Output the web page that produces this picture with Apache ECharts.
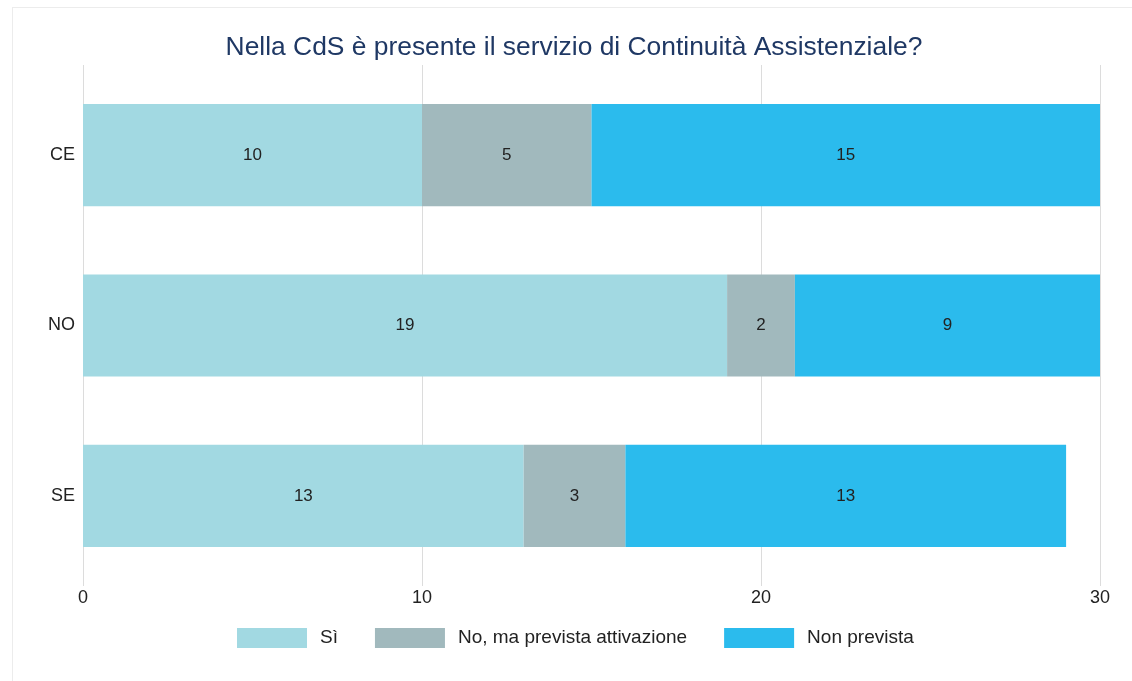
<!DOCTYPE html>
<html>
<head>
<meta charset="utf-8">
<script src="https://cdn.jsdelivr.net/npm/echarts@6/dist/echarts.min.js"></script>
<style>
  html, body { margin: 0; padding: 0; overflow: hidden; background: #fff; }
  #frame { position: absolute; left: 12px; top: 7px; width: 1200px; height: 700px;
           border-left: 1px solid #ececec; border-top: 1px solid #ececec; }
  #chart { position: absolute; left: 0; top: 0; width: 1132px; height: 681px; }
</style>
</head>
<body>
<div id="frame"></div>
<div id="chart"></div>
<script>
// Regions, top to bottom
const categories = ['CE', 'NO', 'SE'];
const seriesNames = ['Sì', 'No, ma prevista attivazione', 'Non prevista'];
const valuesSi = [10, 19, 13];
const valuesPrevista = [5, 2, 3];
const valuesNonPrevista = [15, 9, 13];
const xTicks = [0, 10, 20, 30];
const colors = ['#a2d9e2', '#a1b9bd', '#2bbbed'];

const fontFamily = '"Liberation Sans", Arial, sans-serif';
const gridColor = '#dcdcdc';

function barSeries(name, data, color) {
  return {
    name: name,
    type: 'bar',
    stack: 'total',
    data: data,
    barWidth: '60%',
    itemStyle: { color: color },
    label: {
      show: true,
      position: 'inside',
      color: '#222',
      fontSize: 17,
      fontFamily: fontFamily
    }
  };
}

const chart = echarts.init(document.getElementById('chart'), null, { renderer: 'canvas' });
chart.setOption({
  animation: false,
  title: {
    text: 'Nella CdS è presente il servizio di Continuità Assistenziale?',
    left: 569,
    textAlign: 'center',
    top: 30,
    textStyle: { color: '#1f3864', fontSize: 26.4, fontWeight: 'normal', fontFamily: fontFamily }
  },
  legend: {
    bottom: 28,
    left: 232,
    itemWidth: 70,
    itemHeight: 20,
    itemGap: 37,
    icon: 'rect',
    data: seriesNames,
    textStyle: { color: '#222', fontSize: 19, fontFamily: fontFamily, padding: [0, 0, 0, 8] }
  },
  grid: { left: 83, right: 32, top: 70, bottom: 100, containLabel: false },
  xAxis: [
    {
      type: 'value',
      min: xTicks[0],
      max: xTicks[xTicks.length - 1],
      interval: 10,
      axisLine: { show: false },
      axisTick: { show: true, length: 5, lineStyle: { color: gridColor } },
      splitLine: { show: true, lineStyle: { color: gridColor, width: 1 } },
      axisLabel: { color: '#222', fontSize: 18, fontFamily: fontFamily, margin: 8 }
    },
    {
      type: 'value',
      position: 'top',
      min: xTicks[0],
      max: xTicks[xTicks.length - 1],
      interval: 10,
      axisLine: { show: false },
      axisTick: { show: true, length: 5, lineStyle: { color: gridColor } },
      splitLine: { show: false },
      axisLabel: { show: false }
    }
  ],
  yAxis: {
    type: 'category',
    data: categories,
    inverse: true,
    axisLine: { show: false },
    axisTick: { show: false },
    axisLabel: { color: '#222', fontSize: 18, fontFamily: fontFamily, margin: 8 }
  },
  series: [
    barSeries(seriesNames[0], valuesSi, colors[0]),
    barSeries(seriesNames[1], valuesPrevista, colors[1]),
    barSeries(seriesNames[2], valuesNonPrevista, colors[2])
  ]
});
</script>
</body>
</html>
